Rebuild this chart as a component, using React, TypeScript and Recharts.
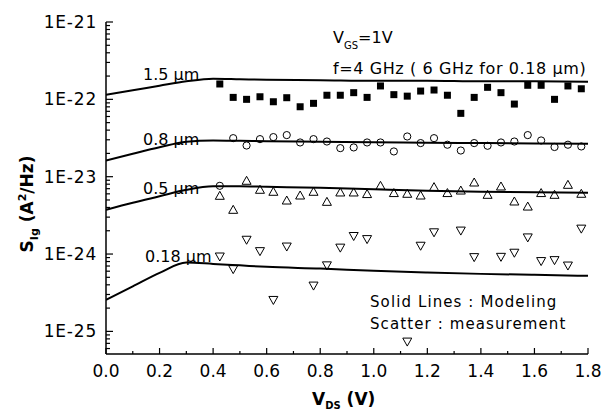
import React from "react";
import { ComposedChart, Line, Scatter, XAxis, YAxis } from "recharts";

// model curves (solid lines)
const vdsModel = [0, 0.1, 0.2, 0.3, 0.4, 0.5, 0.6, 0.8, 1.0, 1.2, 1.4, 1.6, 1.8];
const model15 = [1.15e-22, 1.31e-22, 1.5e-22, 1.71e-22, 1.85e-22, 1.82e-22, 1.79e-22, 1.77e-22, 1.74e-22, 1.74e-22, 1.71e-22, 1.71e-22, 1.69e-22];
const model08 = [1.62e-23, 1.98e-23, 2.4e-23, 2.83e-23, 2.94e-23, 2.91e-23, 2.87e-23, 2.83e-23, 2.79e-23, 2.75e-23, 2.72e-23, 2.69e-23, 2.67e-23];
const model05 = [3.73e-24, 4.6e-24, 5.58e-24, 6.77e-24, 7.51e-24, 7.51e-24, 7.4e-24, 7.18e-24, 6.87e-24, 6.57e-24, 6.38e-24, 6.28e-24, 6.19e-24];
const model018 = [2.56e-25, 3.82e-25, 5.71e-25, 7.76e-25, 7.46e-25, 7.14e-25, 6.83e-25, 6.49e-25, 6.06e-25, 5.76e-25, 5.54e-25, 5.38e-25, 5.22e-25];

// measurements (scatter)
const vdsMeas = [0.425, 0.475, 0.525, 0.575, 0.625, 0.675, 0.725, 0.775, 0.825, 0.875, 0.925, 0.975, 1.025, 1.075, 1.125, 1.175, 1.225, 1.275, 1.325, 1.375, 1.425, 1.475, 1.525, 1.575, 1.625, 1.675, 1.725, 1.775];
const meas15 = [1.58e-22, 1.06e-22, 1.0e-22, 1.08e-22, 9.31e-23, 1.05e-22, 8.02e-23, 8.88e-23, 1.13e-22, 1.13e-22, 1.22e-22, 1.06e-22, 1.49e-22, 1.15e-22, 1.1e-22, 1.28e-22, 1.32e-22, 1.13e-22, 6.59e-23, 1.06e-22, 1.43e-22, 1.22e-22, 8.69e-23, 1.52e-22, 1.52e-22, 1.0e-22, 1.49e-22, 1.37e-22];
const meas08 = [7.62e-24, 3.15e-23, 2.53e-23, 3.06e-23, 3.25e-23, 3.45e-23, 2.77e-23, 3.06e-23, 2.85e-23, 2.34e-23, 2.39e-23, 2.77e-23, 2.77e-23, 2.12e-23, 3.31e-23, 2.72e-23, 3.15e-23, 2.59e-23, 2.18e-23, 2.72e-23, 2.51e-23, 2.77e-23, 2.85e-23, 3.45e-23, 2.94e-23, 2.42e-23, 2.59e-23, 2.46e-23];
const meas05 = [5.66e-24, 3.73e-24, 8.85e-24, 6.77e-24, 6.38e-24, 4.92e-24, 5.71e-24, 6.38e-24, 4.73e-24, 6.25e-24, 6.25e-24, 5.96e-24, 7.62e-24, 6.14e-24, 6.01e-24, 5.71e-24, 7.33e-24, 6.14e-24, 6.62e-24, 8.41e-24, 5.83e-24, 7.47e-24, 4.78e-24, 4.11e-24, 6.14e-24, 5.83e-24, 7.85e-24, 6.01e-24];
const meas018 = [9.29e-25, 6.38e-25, 1.53e-24, 1.09e-24, 2.55e-25, 1.25e-24, null, 3.91e-25, 7.14e-25, 1.21e-24, 1.71e-24, 1.56e-24, null, null, 7.38e-26, 1.28e-24, 1.91e-24, null, 2.01e-24, 9.12e-25, null, 9.2e-25, 1.04e-24, 1.64e-24, 8.11e-25, 8.34e-25, 7.1e-25, 2.13e-24];

const xTicks = [0, 0.1, 0.2, 0.3, 0.4, 0.5, 0.6, 0.7, 0.8, 0.9, 1.0, 1.1, 1.2, 1.3, 1.4, 1.5, 1.6, 1.7, 1.8];
const yMajor = [1e-25, 1e-24, 1e-23, 1e-22, 1e-21];

const yTicks: number[] = [];
[1e-26, ...yMajor].forEach((d) => {
  for (let m = 1; m <= 9; m++) {
    const v = d * m;
    if (v > 5.5e-26 && v <= 1.0001e-21) yTicks.push(v);
  }
});

const toPts = (xs: number[], ys: (number | null)[]) =>
  xs.map((x, i) => ({ x, y: ys[i] })).filter((p) => p.y != null);

const FONT = "DejaVu Sans, sans-serif";
const isMajor = (v: number) => Math.abs(Math.log10(v) - Math.round(Math.log10(v))) < 1e-6;
const isEven = (v: number) => Math.round(v * 10) % 2 === 0;

const LeftTick = ({ x, y, payload }: any) => {
  const major = isMajor(payload.value);
  return (
    <g>
      <line x1={x} x2={x + (major ? 7 : 4)} y1={y} y2={y} stroke="#000" strokeWidth={1.2} />
      {major && (
        <text x={x - 9} y={y + 6} textAnchor="end" fontSize={17} letterSpacing={0.8} fontFamily={FONT} fill="#000">
          {"1E" + Math.round(Math.log10(payload.value))}
        </text>
      )}
    </g>
  );
};

const RightTick = ({ x, y, payload }: any) => {
  const major = isMajor(payload.value);
  return <line x1={x} x2={x - (major ? 7 : 4)} y1={y} y2={y} stroke="#000" strokeWidth={1.2} />;
};

const BottomTick = ({ x, y, payload }: any) => {
  const major = isEven(payload.value);
  return (
    <g>
      <line x1={x} x2={x} y1={y} y2={y - (major ? 6 : 3)} stroke="#000" strokeWidth={1.2} />
      {major && (
        <text x={x} y={y + 23} textAnchor="middle" fontSize={17} fontFamily={FONT} fill="#000">
          {payload.value.toFixed(1)}
        </text>
      )}
    </g>
  );
};

const TopTick = ({ x, y, payload }: any) => {
  const major = isEven(payload.value);
  return <line x1={x} x2={x} y1={y} y2={y + (major ? 6 : 3)} stroke="#000" strokeWidth={1.2} />;
};

const Square = ({ cx, cy }: any) => <rect x={cx - 3.5} y={cy - 3.5} width={7} height={7} fill="#000" />;
const Circle = ({ cx, cy }: any) => <circle cx={cx} cy={cy} r={3.6} fill="none" stroke="#000" strokeWidth={1} />;
const TriUp = ({ cx, cy }: any) => (
  <path d={`M${cx - 4.5},${cy + 3.5}L${cx + 4.5},${cy + 3.5}L${cx},${cy - 4.5}Z`} fill="none" stroke="#000" strokeWidth={1} />
);
const TriDown = ({ cx, cy }: any) => (
  <path d={`M${cx - 4.5},${cy - 3.5}L${cx + 4.5},${cy - 3.5}L${cx},${cy + 4.5}Z`} fill="none" stroke="#000" strokeWidth={1} />
);

const modelSeries = [model15, model08, model05, model018];

export default function App() {
  const txt = { fontFamily: FONT, fill: "#000" };
  return (
    <div style={{ position: "absolute", left: 0, top: 0, width: 603, height: 414, background: "#fff" }}>
      <ComposedChart width={603} height={414} margin={{ top: 22, right: 15, bottom: 0, left: 6 }}>
        <XAxis
          xAxisId="b"
          dataKey="x"
          type="number"
          domain={[0, 1.8]}
          allowDataOverflow
          ticks={xTicks}
          interval={0}
          height={60}
          tickSize={0}
          tickMargin={0}
          tick={<BottomTick />}
          axisLine={{ stroke: "#000", strokeWidth: 1.5 }}
        />
        <XAxis
          xAxisId="t"
          orientation="top"
          type="number"
          domain={[0, 1.8]}
          allowDataOverflow
          ticks={xTicks}
          interval={0}
          height={0}
          tickSize={0}
          tickMargin={0}
          tick={<TopTick />}
          axisLine={{ stroke: "#000", strokeWidth: 1.5 }}
        />
        <YAxis
          yAxisId="l"
          dataKey="y"
          type="number"
          scale="log"
          domain={[5.1e-26, 1e-21]}
          allowDataOverflow
          ticks={yTicks}
          interval={0}
          width={100}
          tickSize={0}
          tickMargin={0}
          tick={<LeftTick />}
          axisLine={{ stroke: "#000", strokeWidth: 1.5 }}
        />
        <YAxis
          yAxisId="r"
          orientation="right"
          type="number"
          scale="log"
          domain={[5.1e-26, 1e-21]}
          allowDataOverflow
          ticks={yTicks}
          interval={0}
          width={0}
          tickSize={0}
          tickMargin={0}
          tick={<RightTick />}
          axisLine={{ stroke: "#000", strokeWidth: 1.5 }}
        />
        {modelSeries.map((s, i) => (
          <Line
            key={i}
            xAxisId="b"
            yAxisId="l"
            data={toPts(vdsModel, s)}
            dataKey="y"
            type="monotone"
            stroke="#000"
            strokeWidth={2}
            dot={false}
            isAnimationActive={false}
          />
        ))}
        <Scatter xAxisId="b" yAxisId="l" data={toPts(vdsMeas, meas15)} shape={<Square />} isAnimationActive={false} />
        <Scatter xAxisId="b" yAxisId="l" data={toPts(vdsMeas, meas08)} shape={<Circle />} isAnimationActive={false} />
        <Scatter xAxisId="b" yAxisId="l" data={toPts(vdsMeas, meas05)} shape={<TriUp />} isAnimationActive={false} />
        <Scatter xAxisId="b" yAxisId="l" data={toPts(vdsMeas, meas018)} shape={<TriDown />} isAnimationActive={false} />
      </ComposedChart>
      <svg width={603} height={414} style={{ position: "absolute", left: 0, top: 0, pointerEvents: "none" }}>
        <text x={143} y={80} fontSize={16} {...txt}>1.5 µm</text>
        <text x={143} y={145} fontSize={16} {...txt}>0.8 µm</text>
        <text x={143} y={194} fontSize={16} {...txt}>0.5 µm</text>
        <text x={145} y={262} fontSize={16} {...txt}>0.18 µm</text>
        <text x={333} y={43} fontSize={16} {...txt}>
          <tspan>V</tspan>
          <tspan fontSize={10} dy={6}>GS</tspan>
          <tspan dy={-6}>=1V</tspan>
        </text>
        <text x={333} y={74} fontSize={16} letterSpacing={0.6} {...txt}>f=4 GHz ( 6 GHz for 0.18 µm)</text>
        <text x={370} y={307} fontSize={15} letterSpacing={1.1} {...txt}>Solid Lines : Modeling</text>
        <text x={370} y={329} fontSize={15} letterSpacing={1.1} {...txt}>Scatter : measurement</text>
        <text x={312} y={405} fontSize={17} fontWeight="bold" {...txt}>
          <tspan>V</tspan>
          <tspan fontSize={10} dy={4}>DS</tspan>
          <tspan dy={-4}> (V)</tspan>
        </text>
        <text transform="translate(33,204) rotate(-90)" textAnchor="middle" fontSize={17} fontWeight="bold" {...txt}>
          <tspan>S</tspan>
          <tspan fontSize={11} dy={5}>Ig</tspan>
          <tspan dy={-5}> (A</tspan>
          <tspan fontSize={11} dy={-7}>2</tspan>
          <tspan dy={7}>/Hz)</tspan>
        </text>
      </svg>
    </div>
  );
}
